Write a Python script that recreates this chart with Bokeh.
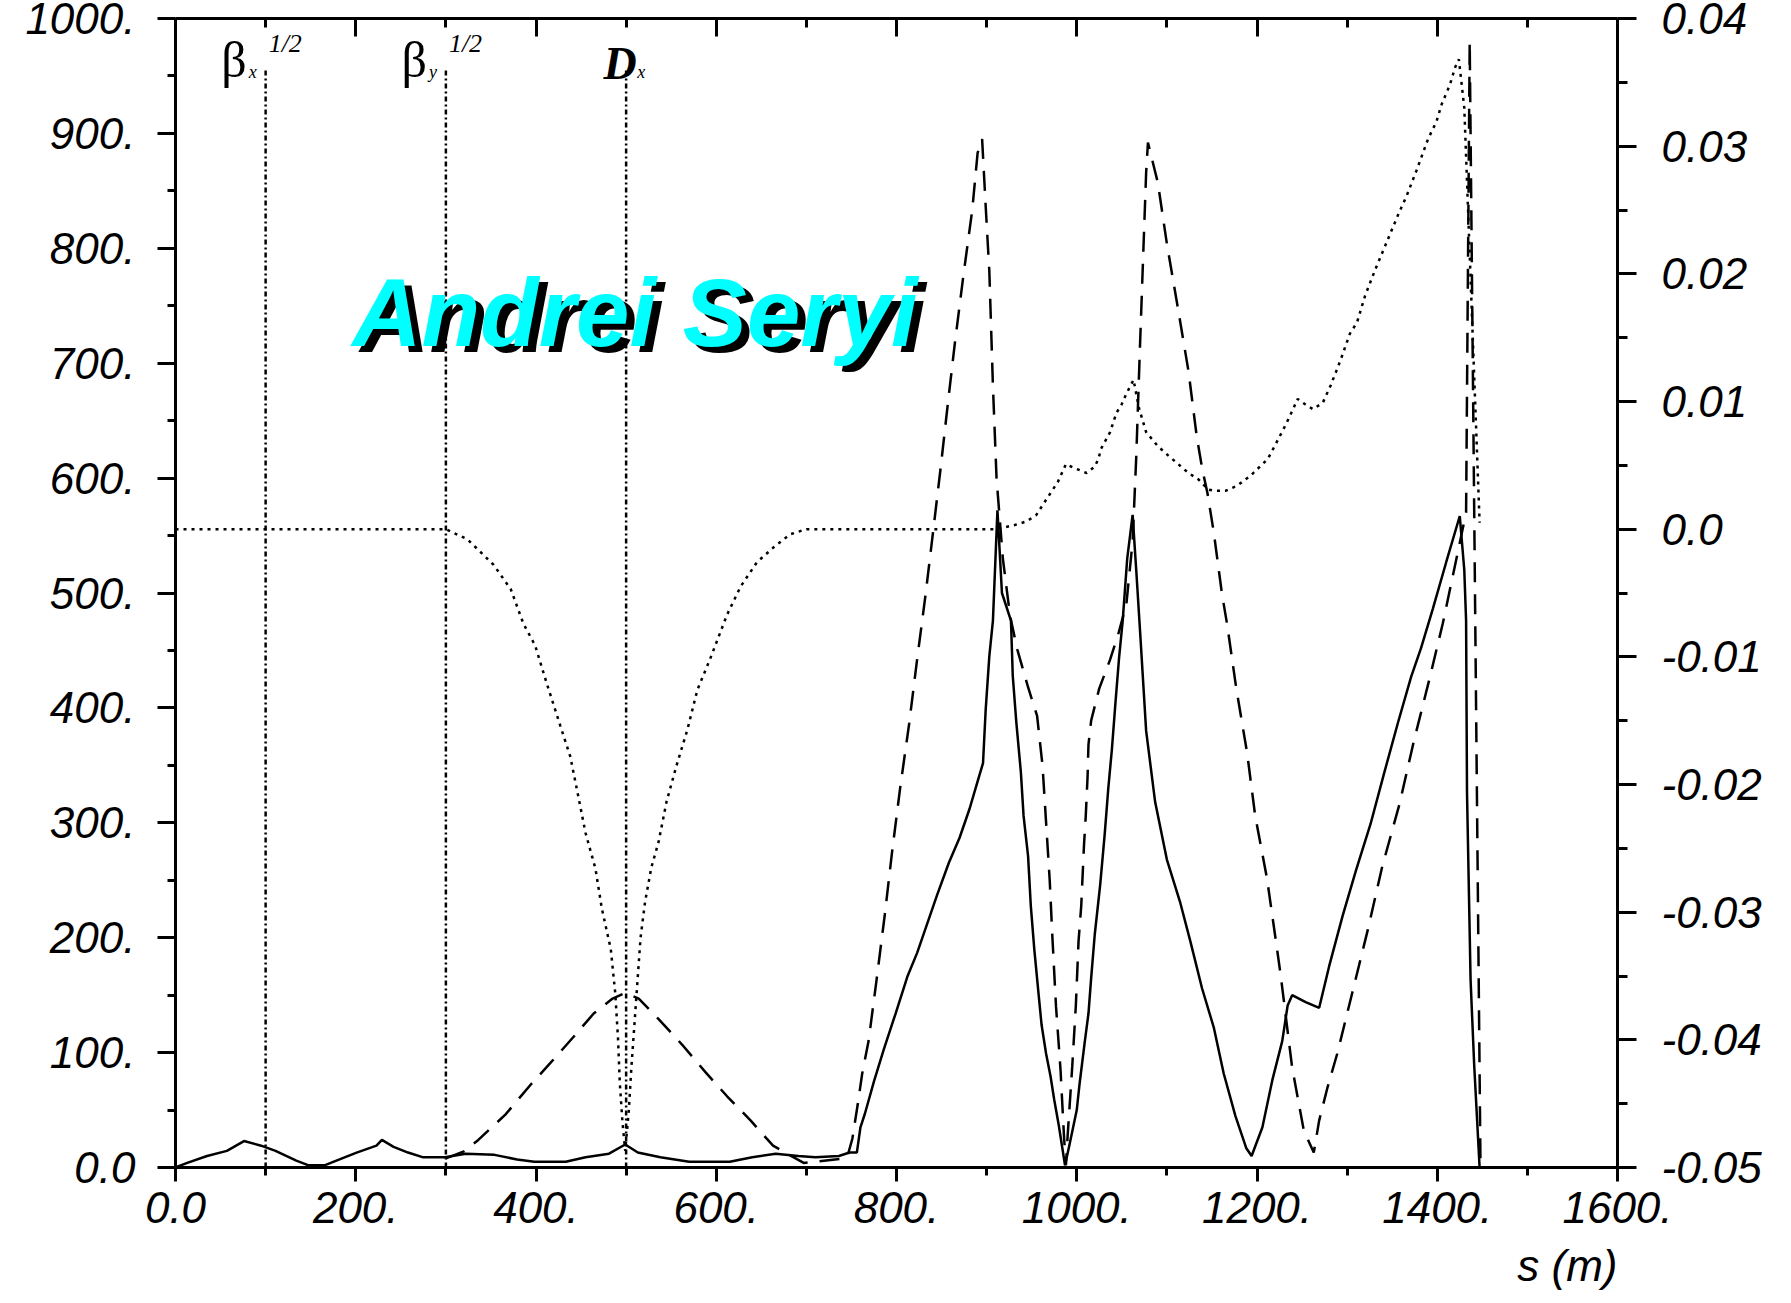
from bokeh.plotting import figure
from bokeh.models import Range1d, LinearAxis, FixedTicker, CustomJSTickFormatter, Label, Title
from bokeh.embed import file_html
from bokeh.resources import INLINE

# ---- optics functions along the beam line (s in metres) ----
# square root of horizontal beta function (solid)
s_betax = [0, 13, 35, 57, 76, 95, 111, 134, 147, 166, 182, 201, 223, 229, 242, 258, 274, 299,
           322, 354, 379, 398, 433, 455, 481, 499, 513, 538, 570, 615, 640, 666, 691, 710, 736,
           748, 756, 760, 765, 775, 786, 799, 812, 823, 834, 845, 858, 870, 881, 890, 896, 899,
           903, 907, 912, 917, 927, 929, 933, 938, 941, 946, 949, 953, 958, 961, 966, 971, 975,
           980, 987, 992, 1000, 1003, 1009, 1013, 1016, 1020, 1026, 1031, 1035, 1039, 1043, 1047,
           1051, 1056, 1062, 1066, 1070, 1077, 1087, 1100, 1115, 1126, 1139, 1152, 1163, 1176,
           1188, 1194, 1206, 1217, 1228, 1234, 1239, 1254, 1269, 1280, 1295, 1310, 1326, 1341,
           1356, 1371, 1382, 1395, 1410, 1425, 1430, 1432, 1433, 1437, 1441, 1447]
betax_sqrt = [0, 4, 10, 14.5, 23, 19, 14.5, 6, 2, 2, 7, 13, 19, 24, 18, 13, 9, 9,
              12, 11, 7, 5, 5, 9, 12, 20, 13, 9, 5, 5, 9, 12, 10, 9, 10,
              13, 13, 35, 47, 75, 103, 134, 166, 187, 212, 237, 265, 287, 312, 336, 352, 399,
              445, 476, 572, 500, 476, 428, 387, 344, 306, 271, 228, 189, 148, 124, 99, 79, 59,
              37, 2, 20, 50, 72, 110, 134, 165, 203, 246, 290, 330, 364, 405, 444,
              476, 530, 568, 520, 470, 380, 318, 268, 230, 197, 156, 122, 82, 45,
              17, 10, 35, 76, 110, 141, 150, 144, 139, 175, 219, 259, 299, 343,
              386, 427, 452, 486, 527, 567, 520, 476, 327, 163, 89, 0]

# square root of vertical beta function (dashed)
s_betay = [300, 320, 336, 366, 394, 416, 442, 464, 485, 499, 514, 535, 562, 588, 612, 638, 663,
           697, 745, 751, 757, 762, 769, 778, 787, 795, 804, 814, 823, 832, 841, 849, 857, 865,
           874, 884, 890, 895, 899, 903, 907, 911, 918, 926, 934, 946, 956, 962, 966, 970, 973,
           977, 982, 986, 988, 990, 995, 999, 1002, 1005, 1008, 1010, 1012, 1013, 1016, 1025,
           1037, 1046, 1055, 1062, 1066, 1070, 1074, 1077, 1079, 1090, 1100, 1112, 1124, 1133,
           1139, 1145, 1152, 1161, 1167, 1177, 1189, 1198, 1211, 1221, 1226, 1239, 1252, 1263,
           1269, 1278, 1289, 1306, 1323, 1339, 1358, 1374, 1391, 1406, 1420, 1432, 1436, 1448]
betay_sqrt = [8, 14, 24, 46, 72, 91, 114, 134, 147, 152, 147, 130, 107, 83, 62, 41, 19,
              4, 8, 25, 55, 82, 110, 164, 220, 274, 330, 386, 443, 497, 556, 609, 665, 719,
              775, 833, 883, 895, 836, 780, 680, 600, 530, 480, 451, 418, 393, 350, 300, 250, 200,
              140, 85, 25, 2, 29, 88, 141, 197, 228, 280, 306, 340, 368, 389, 417,
              442, 464, 490, 545, 618, 711, 800, 866, 892, 857, 804, 749, 693, 637,
              609, 587, 553, 500, 472, 417, 361, 306, 252, 197, 169, 87, 32, 13,
              41, 69, 99, 153, 207, 262, 316, 371, 424, 473, 525, 570, 980, 0]

# horizontal dispersion (dotted, right axis)
s_disp = [0, 300, 324, 340, 353, 372, 386, 399, 412, 427, 438, 446, 455, 466, 473, 483, 488, 491,
          493, 496, 499, 503, 506, 509, 512, 516, 521, 528, 536, 545, 556, 568, 579, 593, 612, 627,
          645, 664, 682, 700, 910, 930, 944, 955, 966, 979, 988, 997, 1011, 1020, 1024, 1027, 1037,
          1044, 1050, 1055, 1063, 1069, 1077, 1090, 1101, 1124, 1135, 1146, 1154, 1165, 1178, 1193,
          1212, 1221, 1232, 1240, 1245, 1253, 1262, 1273, 1282, 1293, 1303, 1311, 1320, 1331, 1344,
          1357, 1366, 1377, 1390, 1399, 1405, 1414, 1420, 1424, 1430, 1447]
disp_x = [0, 0, -0.0008, -0.0019, -0.0028, -0.0047, -0.0074, -0.0091, -0.0121, -0.0154, -0.0178,
          -0.0206, -0.0238, -0.0266, -0.0297, -0.0329, -0.0364, -0.0399, -0.0434, -0.0465, -0.0487,
          -0.0455, -0.0420, -0.0390, -0.0360, -0.0320, -0.0292, -0.0265, -0.0245, -0.0213, -0.0185,
          -0.0157, -0.0126, -0.0102, -0.0067, -0.0045, -0.0026, -0.0014, -0.0004, 0, 0, 0.0003,
          0.0006, 0.0011, 0.0023, 0.0037, 0.0051, 0.0048, 0.0044, 0.0049, 0.0055, 0.0063, 0.0076,
          0.0091, 0.0098, 0.0106, 0.0117, 0.0095, 0.0076, 0.0065, 0.0058, 0.0044, 0.0039, 0.0031,
          0.0030, 0.0030, 0.0034, 0.0042, 0.0055, 0.0067, 0.0082, 0.0094, 0.0102, 0.0098, 0.0094,
          0.0099, 0.0113, 0.0133, 0.0153, 0.0162, 0.0183, 0.0203, 0.0225, 0.0247, 0.0261, 0.0281,
          0.0306, 0.0319, 0.0333, 0.0348, 0.0362, 0.0368, 0.0330, 0.0005]

# curve identifiers written at the top, each with a marker line at its s position
key_s = [100, 300, 500]
key_symbol = ["β", "β", "D"]
key_sub = ["x", "y", "x"]
key_sup = ["1/2", "1/2", ""]

# axis ticks
s_ticks = [0, 200, 400, 600, 800, 1000, 1200, 1400, 1600]
s_minor = [100, 300, 500, 700, 900, 1100, 1300, 1500]
b_ticks = [0, 100, 200, 300, 400, 500, 600, 700, 800, 900, 1000]
b_minor = [50, 150, 250, 350, 450, 550, 650, 750, 850, 950]
d_ticks = [-0.05, -0.04, -0.03, -0.02, -0.01, 0.0, 0.01, 0.02, 0.03, 0.04]
d_minor = [-0.045, -0.035, -0.025, -0.015, -0.005, 0.005, 0.015, 0.025, 0.035]

x_title = "s (m)"
watermark = "Andrei Seryi"

TICK_FONT = "Liberation Sans"
TICK_SIZE = "44px"

p = figure(width=1791, height=1303, x_range=Range1d(0, 1600), y_range=Range1d(0, 1000),
           output_backend="svg", toolbar_location=None,
           min_border_left=175, min_border_right=174, min_border_top=18, min_border_bottom=136)
p.extra_y_ranges = {"disp": Range1d(-0.05, 0.04)}
p.grid.visible = False
p.outline_line_color = None
p.background_fill_color = "white"
p.border_fill_color = "white"

plain_fmt = CustomJSTickFormatter(code="return tick == 0 ? '0.0' : tick.toFixed(0) + '.';")
disp_fmt = CustomJSTickFormatter(code="return Math.abs(tick) < 1e-9 ? '0.0' : tick.toFixed(2);")
blank_fmt = CustomJSTickFormatter(code="return '';")


def style_axis(ax, tick_in, tick_out, minor_in, minor_out, standoff):
    ax.axis_line_width = 3
    ax.axis_line_color = "black"
    ax.major_tick_line_width = 3
    ax.minor_tick_line_width = 3
    ax.major_tick_line_color = "black"
    ax.minor_tick_line_color = "black"
    ax.major_tick_in = tick_in
    ax.major_tick_out = tick_out
    ax.minor_tick_in = minor_in
    ax.minor_tick_out = minor_out
    ax.major_label_standoff = standoff
    ax.major_label_text_font = TICK_FONT
    ax.major_label_text_font_style = "italic"
    ax.major_label_text_font_size = TICK_SIZE
    ax.major_label_text_color = "black"


bottom = p.xaxis[0]
bottom.ticker = FixedTicker(ticks=s_ticks, minor_ticks=s_minor)
bottom.formatter = plain_fmt
style_axis(bottom, 0, 14, 0, 8, 10)

left = p.yaxis[0]
left.ticker = FixedTicker(ticks=b_ticks, minor_ticks=b_minor)
left.formatter = plain_fmt
style_axis(left, 0, 18, 0, 8, 22)

top = LinearAxis(ticker=FixedTicker(ticks=s_ticks, minor_ticks=s_minor), formatter=blank_fmt)
style_axis(top, 18, 0, 9, 0, 0)
top.major_label_text_font_size = "10px"
p.add_layout(top, "above")

right = LinearAxis(y_range_name="disp", ticker=FixedTicker(ticks=d_ticks, minor_ticks=d_minor),
                   formatter=disp_fmt)
style_axis(right, 0, 19, 0, 10, 25)
p.add_layout(right, "right")

# horizontal axis title, right-aligned under the frame
p.add_layout(Title(text=x_title, align="right", text_font=TICK_FONT, text_font_style="italic",
                   text_font_size=TICK_SIZE, text_color="black", standoff=26, offset=0),
             "below")

# marker lines under the curve identifiers
key_top = 955
key_base = 950
p.segment(x0=key_s, y0=[0] * len(key_s), x1=key_s, y1=[key_top] * len(key_s),
          line_color="black", line_width=2.5, line_dash="5 3 2 3")

# the three optics curves
p.line(s_betax, betax_sqrt, line_color="black", line_width=2.5)
p.line(s_betay, betay_sqrt, line_color="black", line_width=2.5, line_dash="20 12")
p.line(s_disp, disp_x, y_range_name="disp", line_color="black", line_width=2.5, line_dash="3 5")


def baseline_label(x, y, text, font, size, style, align, dx, dy, color="black"):
    # dy is the baseline shift in px; the extra term compensates the text box placement
    px = float(size.rstrip("px"))
    return Label(x=x, y=y, text=text, text_font=font, text_font_style=style,
                 text_font_size=size, text_align=align, x_offset=dx,
                 y_offset=dy + 0.32 * px, text_baseline="alphabetic", text_color=color)


# curve identifiers
for s, sym, sub, sup in zip(key_s, key_symbol, key_sub, key_sup):
    if sym == "β":
        p.add_layout(baseline_label(s, key_base, sym, "Liberation Serif", "50px", "normal",
                                    "right", -19, 0))
        p.add_layout(baseline_label(s, key_base, sub, "Liberation Serif", "18px", "italic",
                                    "left", -17, -2))
        p.add_layout(baseline_label(s, key_base, sup, "Liberation Serif", "26px", "italic",
                                    "left", 3, 24))
    else:
        p.add_layout(baseline_label(s, key_base, sym, "Liberation Serif", "46px", "bold italic",
                                    "center", -6, -2))
        p.add_layout(baseline_label(s, key_base, sub, "Liberation Serif", "18px", "italic",
                                    "left", 11, -2))

# author mark with drop shadow
for color, dx, dy in [("black", 8, -6), ("#00ffff", 0, 0)]:
    p.add_layout(baseline_label(196, 717, watermark, "Liberation Sans", "96px", "bold italic",
                                "left", dx, dy, color))

open("out.html", "w").write(file_html(p, INLINE))
